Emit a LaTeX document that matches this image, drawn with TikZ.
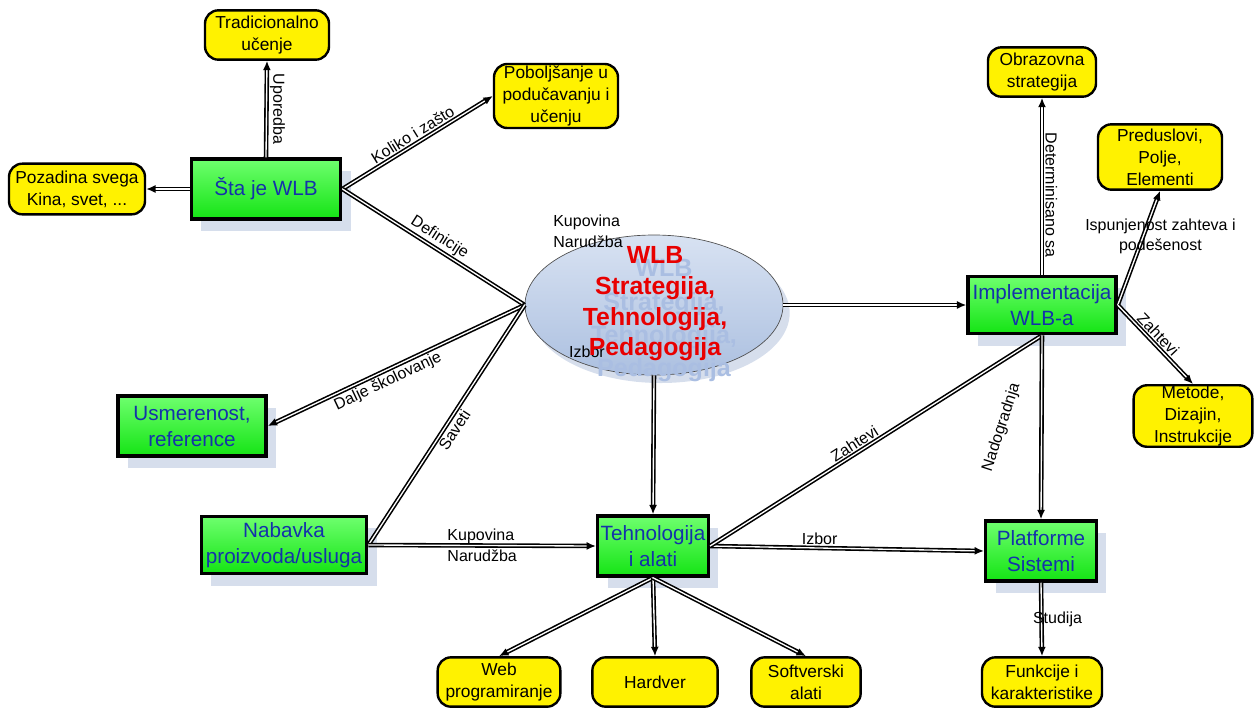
\documentclass[tikz,border=0pt]{standalone}
\usepackage{fontspec}
\setmainfont{Liberation Sans}
\usetikzlibrary{positioning,arrows.meta,shapes.geometric,shadows}

\definecolor{greentop}{RGB}{110,255,110}
\definecolor{greenbot}{RGB}{20,228,20}
\definecolor{topicblue}{RGB}{20,50,170}
\definecolor{shadowblue}{RGB}{214,222,236}
\definecolor{elltop}{RGB}{216,226,242}
\definecolor{ellbot}{RGB}{172,192,224}
\definecolor{ghostblue}{RGB}{170,190,226}
\definecolor{wlbred}{RGB}{232,0,0}

\tikzset{
  topic/.style={draw=black, line width=2.6pt, top color=greentop, bottom color=greenbot,
    text=topicblue, font=\fontsize{15.5}{19.5}\selectfont, align=center, inner sep=1pt,
    drop shadow={shadow xshift=7.5pt, shadow yshift=-9pt, fill=shadowblue, opacity=1}},
  leaf/.style={draw=black, line width=1.8pt, fill=yellow, rounded corners=10pt,
    font=\fontsize{13}{16.5}\selectfont, align=center, inner sep=0.5pt},
  link/.style={draw=black, line width=1.2pt, double=white, double distance=1pt},
  arr/.style={link, -{Latex[length=7pt,width=6pt]}},
  lbl/.style={font=\fontsize{12}{15.5}\selectfont, inner sep=2pt}
}

\begin{document}
\begin{tikzpicture}[x=0.75pt, y=-0.75pt]
\useasboundingbox (0,0) rectangle (1255,708);

% Center
\node[ellipse, draw=black!70, line width=0.5pt, top color=elltop, bottom color=ellbot,
  minimum width=193.5pt, minimum height=105pt, inner sep=0pt,
  drop shadow={shadow xshift=5pt, shadow yshift=-6pt, fill=shadowblue, opacity=1}] (wlb) at (654,305) {};
\node[font=\fontsize{18.8}{25}\selectfont\bfseries, text=ghostblue, align=center] (wlbghost) at (664,321)
  {WLB\\Strategija,\\Tehnologija,\\Pedagogija};
\node[lbl, align=left] (kupnar) at (588,231) {Kupovina\\Narudžba};
\node[lbl] (izbortop) at (587,352) {Izbor};
\node[font=\fontsize{18.6}{23}\selectfont\bfseries, text=wlbred, align=center] (wlbtext) at (655,304)
  {WLB\\Strategija,\\Tehnologija,\\Pedagogija};

% Green nodes
\node[topic, minimum width=112pt, minimum height=45pt] (sta) at (266,189) {Šta je WLB};
\node[topic, minimum width=111pt, minimum height=45pt] (usmer) at (192,426) {Usmerenost,\\reference};
\node[topic, minimum width=124pt, minimum height=43pt] (nabavka) at (284,545) {Nabavka\\proizvoda/usluga};
\node[topic, minimum width=83pt, minimum height=45pt] (tehno) at (653,546) {Tehnologija\\i alati};
\node[topic, minimum width=111pt, minimum height=43pt] (impl) at (1042,305) {Implementacija\\WLB-a};
\node[topic, minimum width=83pt, minimum height=45pt] (platf) at (1041,551) {Platforme\\Sistemi};

% Yellow nodes
\node[leaf, minimum width=93pt, minimum height=37pt] (trad) at (267,35) {Tradicionalno\\učenje};
\node[leaf, minimum width=93pt, minimum height=48pt] (pobolj) at (556,96) {Poboljšanje u\\podučavanju i\\učenju};
\node[leaf, minimum width=102pt, minimum height=38pt] (pozadina) at (77,189) {Pozadina svega\\Kina, svet, ...};
\node[leaf, minimum width=81pt, minimum height=37pt] (obraz) at (1042,72) {Obrazovna\\strategija};
\node[leaf, minimum width=93pt, minimum height=49pt] (preduslovi) at (1160,157) {Preduslovi,\\Polje,\\Elementi};
\node[leaf, minimum width=89pt, minimum height=45pt] (metode) at (1193,416) {Metode,\\Dizajin,\\Instrukcije};
\node[leaf, minimum width=92pt, minimum height=37pt] (web) at (499,682) {Web\\programiranje};
\node[leaf, minimum width=94pt, minimum height=37pt] (hardver) at (655,682) {Hardver};
\node[leaf, minimum width=82pt, minimum height=37pt] (softver) at (806,682) {Softverski\\alati};
\node[leaf, minimum width=90pt, minimum height=37pt] (funkcije) at (1042,682) {Funkcije i\\karakteristike};

% Arrows
\draw[arr] (sta.north) -- (trad.south) node[lbl, midway, rotate=-90, anchor=south] {Uporedba};
\draw[arr] (sta.west) -- (pozadina.east);
\draw[arr] (sta.east) -- (pobolj.west) node[lbl, midway, sloped, above] {Koliko i zašto};
\draw[link] (sta.east) -- (wlb.west) node[lbl, midway, sloped, above] {Definicije};
\draw[arr] (wlb.west) -- (usmer.east) node[lbl, pos=0.55, sloped, below] {Dalje školovanje};
\draw[link] (nabavka.east) -- (wlb.west) node[lbl, midway, sloped, below] {Saveti};
\draw[arr] (nabavka.east) -- (tehno.west) node[lbl, midway, align=left] {Kupovina\\Narudžba};
\draw[arr] (wlb.south) -- (tehno.north);
\draw[arr] (wlb.east) -- (impl.west);
\draw[arr] (tehno.east) -- (platf.west) node[lbl, pos=0.4, above] {Izbor};
\draw[link] (tehno.east) -- (impl.south) node[lbl, pos=0.45, sloped, above] {Zahtevi};
\draw[arr] (impl.north) -- (obraz.south) node[lbl, pos=0.45, rotate=-90, anchor=south] {Determinisano sa};
\draw[arr] (impl.east) -- (preduslovi.south) node[lbl, pos=0.6, xshift=13pt, align=center] {Ispunjenost zahteva i\\podešenost};
\draw[arr] (impl.east) -- (metode.north) node[lbl, pos=0.45, sloped, above] {Zahtevi};
\draw[arr] (impl.south) -- (platf.north) node[lbl, midway, xshift=-30pt, rotate=72] {Nadogradnja};
\draw[arr] (tehno.south) -- (web.north);
\draw[arr] (tehno.south) -- (hardver.north);
\draw[arr] (tehno.south) -- (softver.north);
\draw[arr] (platf.south) -- (funkcije.north) node[lbl, midway, xshift=12pt] {Studija};

\end{tikzpicture}
\end{document}
